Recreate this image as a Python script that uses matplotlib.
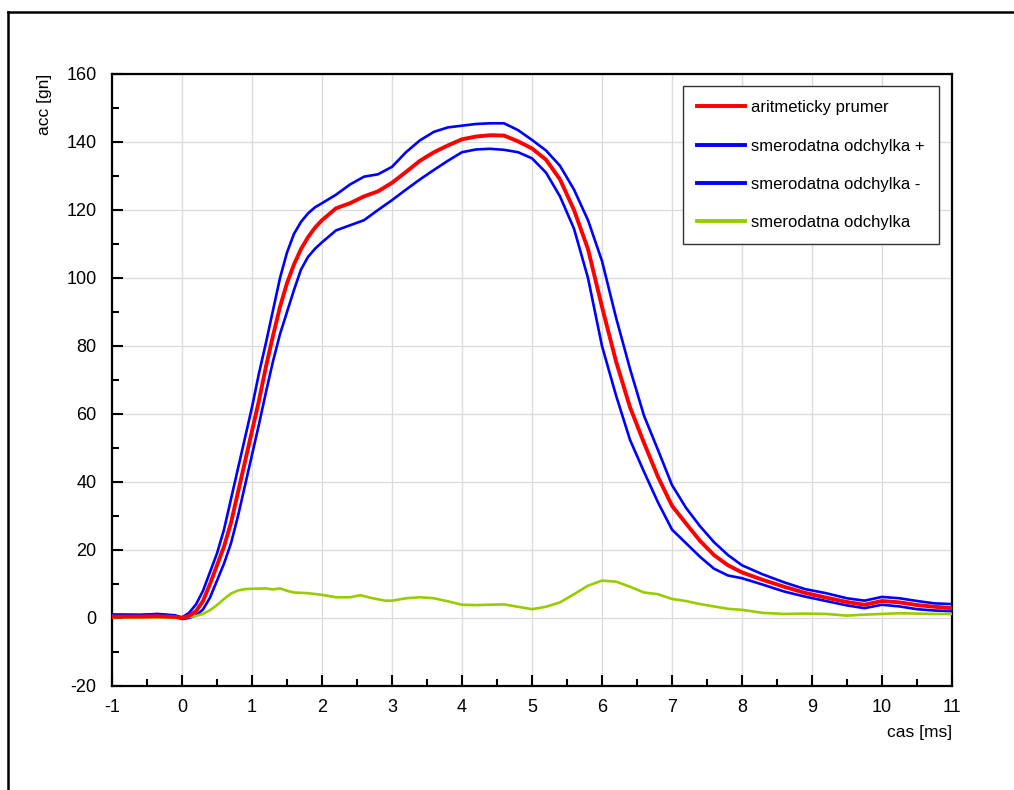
import matplotlib
matplotlib.use('Agg')
import matplotlib.pyplot as plt
from matplotlib.lines import Line2D
from matplotlib.ticker import MultipleLocator

plt.rcParams['font.family'] = ['Liberation Sans', 'DejaVu Sans']
plt.rcParams['axes.unicode_minus'] = False

# cas [ms]
x_main = [-1.0, -0.6, -0.35, -0.1, 0.0, 0.1, 0.2, 0.3, 0.4, 0.5, 0.6, 0.7, 0.8, 0.9, 1.0, 1.1, 1.2, 1.3,
          1.4, 1.5, 1.6, 1.7, 1.8, 1.9, 2.0, 2.2, 2.4, 2.6, 2.8, 3.0, 3.2, 3.4, 3.6, 3.8, 4.0, 4.2, 4.4,
          4.6, 4.8, 5.0, 5.2, 5.4, 5.6, 5.8, 6.0, 6.2, 6.4, 6.6, 6.8, 7.0, 7.2, 7.4, 7.6, 7.8, 8.0, 8.3,
          8.6, 8.9, 9.2, 9.5, 9.75, 10.0, 10.25, 10.5, 10.75, 11.0]
prumer = [0.4, 0.4, 0.5, 0.3, 0.0, 0.6, 2.0, 5.0, 10, 15.5, 21, 28, 37, 46, 55, 64, 74, 83,
          91.5, 98.5, 104, 108.5, 112, 114.8, 117, 120.5, 122, 124, 125.5, 128, 131.2, 134.5, 137, 139, 140.8, 141.6, 142,
          141.9, 140.2, 138.1, 134.8, 129, 120, 108.5, 91.5, 75.5, 62, 51.5, 41.5, 33, 27.8, 22.7, 18.5, 15.5, 13.4, 11.2,
          9.2, 7.4, 6.0, 4.7, 3.9, 5.0, 4.6, 3.8, 3.3, 2.9]
odch_plus = [1.0, 0.9, 1.2, 0.8, 0.2, 1.5, 4.0, 8.0, 13.5, 19, 26, 35, 44, 53, 62, 72, 81, 90.5,
             100, 107.5, 113, 116.5, 119, 120.8, 122, 124.5, 127.5, 129.8, 130.5, 132.7, 137, 140.5, 143, 144.3, 144.8, 145.3, 145.5,
             145.5, 143.5, 140.6, 137.5, 133, 126, 117, 105, 88.4, 73.3, 59.5, 49.4, 39.1, 32.4, 27, 22.3, 18.5, 15.5, 12.8,
             10.5, 8.5, 7.3, 5.8, 5.1, 6.2, 5.8, 5.0, 4.3, 4.1]
odch_minus = [1.0, 0.9, 1.1, 0.5, -0.3, 0.0, 0.8, 2.5, 6, 11, 16, 22, 30, 39, 48, 57, 66.5, 75.5,
              83.5, 90, 96.5, 102.5, 106.2, 108.6, 110.5, 114, 115.5, 117, 120, 122.9, 126, 129, 131.8, 134.5, 137, 137.8, 138,
              137.7, 137, 135.2, 131, 124, 114.5, 100, 80, 65.5, 52.4, 43, 34, 26, 22, 18, 14.5, 12.5, 11.7, 9.8,
              7.8, 6.3, 5.0, 3.7, 2.9, 3.9, 3.4, 2.6, 2.2, 2.0]

x_std = [-1.0, -0.5, 0.0, 0.1, 0.2, 0.3, 0.4, 0.5, 0.6, 0.7, 0.8, 0.9, 1.0, 1.2, 1.3, 1.4, 1.5, 1.6, 1.8,
         2.0, 2.2, 2.4, 2.55, 2.7, 2.9, 3.0, 3.2, 3.4, 3.6, 3.8, 4.0, 4.2, 4.4, 4.6, 4.8, 5.0, 5.2, 5.4,
         5.6, 5.8, 6.0, 6.2, 6.4, 6.6, 6.8, 7.0, 7.2, 7.4, 7.6, 7.8, 8.0, 8.3, 8.6, 8.9, 9.2, 9.5, 9.75,
         10.0, 10.25, 10.5, 10.75, 11.0]
odch = [0.2, 0.2, 0.2, 0.3, 0.6, 1.2, 2.3, 3.8, 5.6, 7.2, 8.1, 8.5, 8.6, 8.7, 8.4, 8.7, 8.0, 7.5, 7.3,
        6.8, 6.1, 6.1, 6.7, 5.9, 5.1, 5.1, 5.8, 6.1, 5.8, 4.9, 3.9, 3.8, 3.9, 4.0, 3.3, 2.6, 3.3, 4.6,
        7.0, 9.5, 11.0, 10.7, 9.2, 7.5, 7.0, 5.6, 5.0, 4.1, 3.4, 2.7, 2.4, 1.5, 1.2, 1.3, 1.2, 0.7, 1.0,
        1.2, 1.4, 1.3, 1.2, 1.2]

labels = ['aritmeticky prumer', 'smerodatna odchylka +', 'smerodatna odchylka -', 'smerodatna odchylka']

W, H = 1014, 790
fig = plt.figure(figsize=(W / 100, H / 100), dpi=100)
ax = fig.add_axes([112 / W, 104 / H, 840 / W, 612 / H])

ax.plot(x_main, prumer, color='#ff0000', lw=2.8, label=labels[0], zorder=4)
ax.plot(x_main, odch_plus, color='#0000ff', lw=1.9, label=labels[1], zorder=3)
ax.plot(x_main, odch_minus, color='#0000ff', lw=1.9, label=labels[2], zorder=3)
ax.plot(x_std, odch, color='#99cc00', lw=1.9, label=labels[3], zorder=3)

ax.set_xlim(-1, 11); ax.set_ylim(-20, 160)
ax.xaxis.set_major_locator(MultipleLocator(1)); ax.xaxis.set_minor_locator(MultipleLocator(0.5))
ax.yaxis.set_major_locator(MultipleLocator(20)); ax.yaxis.set_minor_locator(MultipleLocator(10))
ax.grid(True, which='major', color='#dcdcdc', lw=1.0, zorder=0)
ax.set_axisbelow(True)
ax.tick_params(which='both', direction='in', width=1.5, labelsize=13, color='black')
ax.tick_params(which='major', length=8)
ax.tick_params(which='minor', length=5)
ax.tick_params(axis='y', pad=11)
ax.tick_params(axis='x', pad=9)
for s in ax.spines.values():
    s.set_linewidth(1.6)

fig.text(45 / W, 1 - 74 / H, 'acc [gn]', rotation=90, ha='center', va='top', fontsize=12.5)
fig.text(952 / W, 1 - 733 / H, 'cas [ms]', ha='right', va='center', fontsize=12.5)

leg = ax.legend(loc='upper right', bbox_to_anchor=(939 / W, 1 - 86 / H), bbox_transform=fig.transFigure,
                fontsize=12, fancybox=False, framealpha=1, edgecolor='#333333', handlelength=2.9,
                handletextpad=0.35, labelspacing=1.4, borderpad=0.85, borderaxespad=0)
leg.get_frame().set_linewidth(1.0)
for ln in leg.get_lines():
    ln.set_linewidth(2.8)

# ramecek obrazku
fig.add_artist(Line2D([8 / W, 8 / W], [0, 1 - 12 / H], transform=fig.transFigure, color='black', lw=1.8))
fig.add_artist(Line2D([8 / W, 1], [1 - 12 / H, 1 - 12 / H], transform=fig.transFigure, color='black', lw=1.8))

fig.savefig('out.png', dpi=100)
